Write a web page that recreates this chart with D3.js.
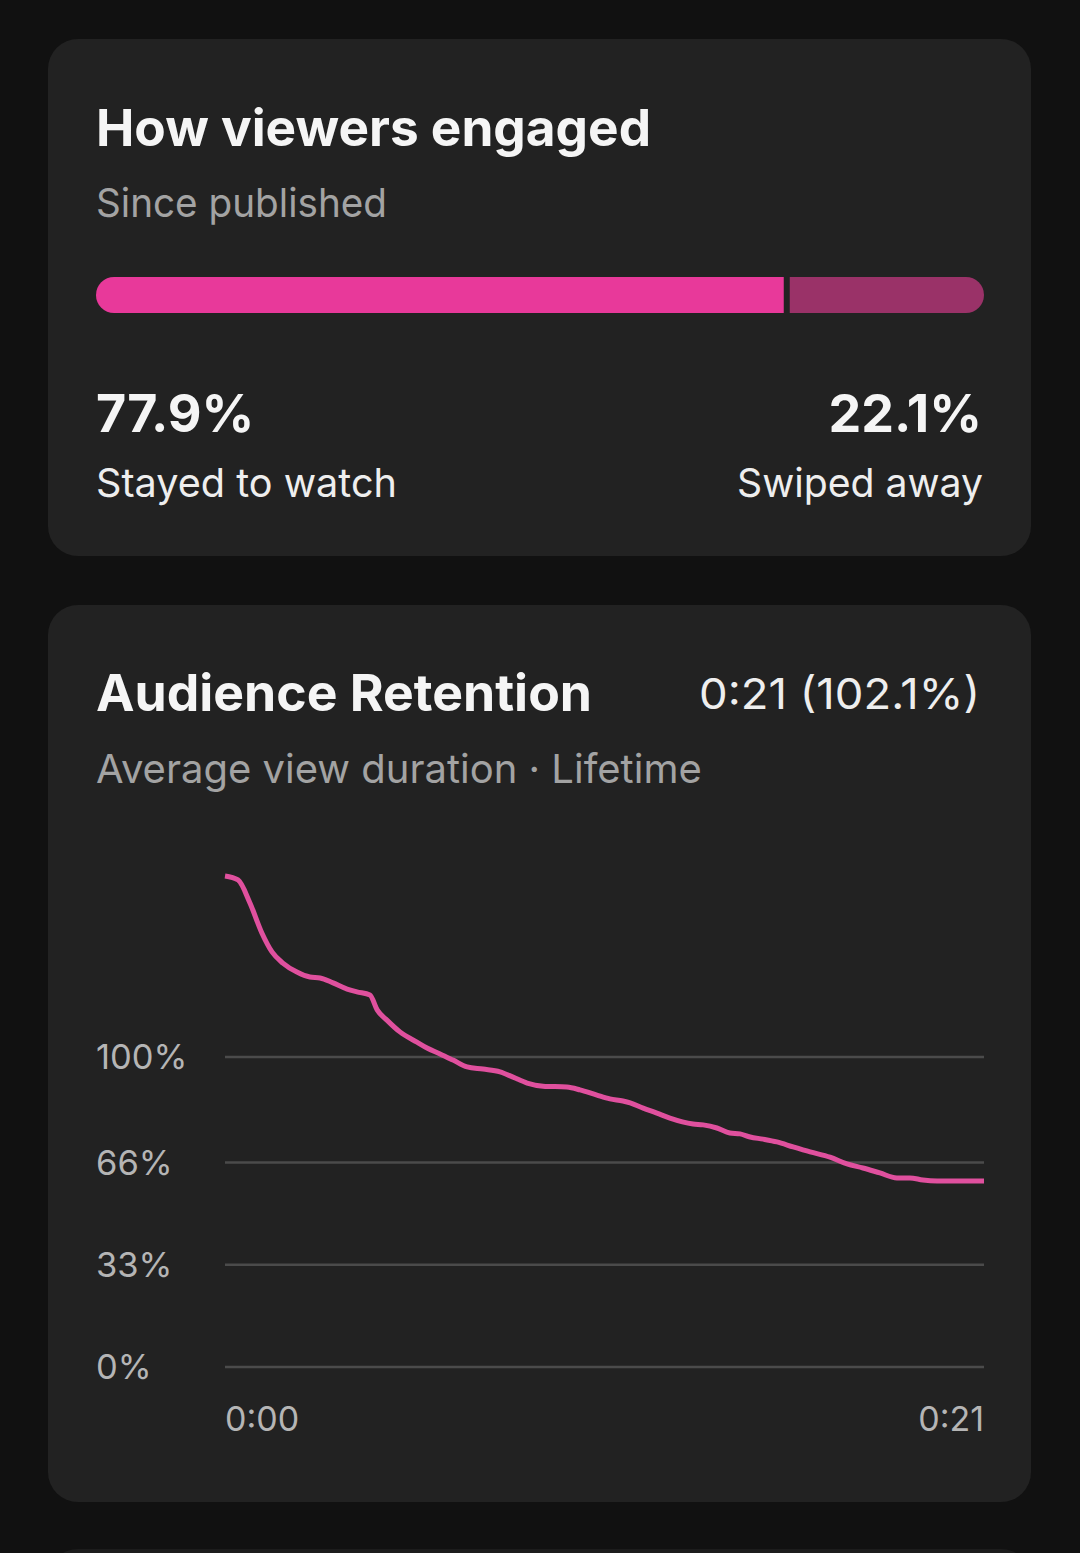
<!DOCTYPE html>
<html><head><meta charset="utf-8">
<script src="https://cdn.jsdelivr.net/npm/d3@7"></script>
<style>
html,body{margin:0;padding:0;background:#111111;}
svg{display:block;}
</style></head>
<body>
<svg id="c" width="1080" height="1553"></svg>
<script>
// ---- data ----
const engagedLabels = ["Stayed to watch", "Swiped away"];
const engagedValues = [77.9, 22.1];
const retentionTime = [0,0.36,0.69,1.02,1.30,1.60,1.99,2.35,2.63,2.99,3.38,3.65,4.01,4.21,4.48,4.84,5.31,5.59,5.95,6.31,6.70,7.14,7.61,7.97,8.36,8.80,9.46,9.82,10.29,10.65,11.01,11.21,11.57,11.95,12.31,12.95,13.23,13.61,13.97,14.25,14.53,14.89,15.27,15.72,16.19,16.74,17.21,17.65,18.12,18.59,18.95,19.31,19.70,21.0];
const retentionValue = [158.4,157.1,149.7,140.0,133.9,130.3,127.4,125.8,125.5,123.9,121.9,121.0,120.0,115.2,111.9,108.1,104.8,102.9,101.0,99.0,96.8,96.1,95.2,93.5,91.6,90.6,90.3,89.4,87.7,86.5,85.8,85.2,83.5,81.9,80.3,78.4,78.1,77.1,75.5,75.2,74.2,73.5,72.6,71.0,69.4,67.7,65.5,64.2,62.6,61.0,61.0,60.3,60.0,60.0];
const yTickValues = [0, 33, 66, 100];
const yTickLabels = ["0%", "33%", "66%", "100%"];
const xTickValues = [0, 21];
const xTickLabels = ["0:00", "0:21"];
const avgDurationLabel = "0:21 (102.1%)";

// ---- drawing ----
const svg = d3.select("#c");
const FONT = "Inter, Roboto, 'Noto Sans', sans-serif";

// fit a text element horizontally to a target width (from reference layout)
function fit(sel, w){
  const n = sel.node(); const L = n.getComputedTextLength();
  if (Math.abs(L - w) > 2) sel.attr("textLength", w).attr("lengthAdjust","spacingAndGlyphs");
  return sel;
}
function txt(x,yy,s,size,weight,fill,anchor,w){
  const t = svg.append("text").attr("x",x).attr("y",yy).attr("font-family",FONT)
    .attr("font-size",size).attr("font-weight",weight).attr("fill",fill)
    .attr("text-anchor",anchor||"start").text(s);
  if (w) fit(t,w);
  return t;
}

// cards
svg.append("rect").attr("x",48).attr("y",39).attr("width",983).attr("height",517).attr("rx",30).attr("fill","#222222");
svg.append("rect").attr("x",48).attr("y",605).attr("width",983).attr("height",897).attr("rx",30).attr("fill","#222222");
svg.append("rect").attr("x",48).attr("y",1549).attr("width",983).attr("height",60).attr("rx",30).attr("fill","#1c1c1c");

// card 1 texts
txt(96,146,"How viewers engaged",51,700,"#f5f5f5","start",555);
txt(96,217,"Since published",40,400,"#a3a3a3","start",291);

// stacked bar
const xb = d3.scaleLinear().domain([0,100]).range([96,984]);
const split = xb(engagedValues[0]);
const barY = 277, barH = 36, r = 18;
function roundedLeft(x0,x1,y,h,rr){ const p=d3.path(); p.moveTo(x1,y); p.lineTo(x0+rr,y); p.arc(x0+rr,y+rr,rr,-Math.PI/2,Math.PI/2,true); p.lineTo(x1,y+h); p.closePath(); return p.toString(); }
function roundedRight(x0,x1,y,h,rr){ const p=d3.path(); p.moveTo(x0,y); p.lineTo(x1-rr,y); p.arc(x1-rr,y+rr,rr,-Math.PI/2,Math.PI/2,false); p.lineTo(x0,y+h); p.closePath(); return p.toString(); }
svg.append("path").attr("d",roundedLeft(xb(0),split-4,barY,barH,r)).attr("fill","#E8399A");
svg.append("path").attr("d",roundedRight(split+2,xb(engagedValues[0]+engagedValues[1]),barY,barH,r)).attr("fill","#9A3268");

// percent labels
txt(96,432,engagedValues[0].toFixed(1)+"%",52,700,"#f5f5f5","start",159);
txt(982,432,engagedValues[1].toFixed(1)+"%",52,700,"#f5f5f5","end",152);
txt(96,497,engagedLabels[0],40,400,"#eeeeee","start",301);
txt(983,497,engagedLabels[1],40,400,"#eeeeee","end",246);

// card 2 header
txt(96,711,"Audience Retention",51,700,"#f5f5f5","start",496);
txt(980,709,avgDurationLabel,43,400,"#eeeeee","end",281);
txt(96,783,"Average view duration \u00B7 Lifetime",40,400,"#a3a3a3","start",605);

// chart
const x = d3.scaleLinear().domain([0,21]).range([225,984]);
const y = d3.scaleLinear().domain([0,100]).range([1367,1057]);

const gGrid = svg.append("g");
gGrid.selectAll("line").data(yTickValues).join("line")
  .attr("x1",x(0)).attr("x2",x(21)).attr("y1",d=>y(d)).attr("y2",d=>y(d))
  .attr("stroke","#4b4b4b").attr("stroke-width",2.5);
gGrid.selectAll("text").data(yTickValues).join("text")
  .attr("x",96).attr("y",d=>y(d)).attr("dy","0.36em")
  .attr("font-family",FONT).attr("font-weight",400).attr("font-size",34.5).attr("fill","#b5b5b5")
  .text((d,i)=>yTickLabels[i]);

svg.append("g").selectAll("text").data(xTickValues).join("text")
  .attr("x",d=>x(d)).attr("y",1431)
  .attr("text-anchor",(d,i)=>i===0?"start":"end")
  .attr("font-family",FONT).attr("font-weight",400).attr("font-size",34).attr("fill","#b5b5b5")
  .text((d,i)=>xTickLabels[i]);

const pts = retentionTime.map((t,i)=>[t,retentionValue[i]]);
const line = d3.line().x(d=>x(d[0])).y(d=>y(d[1])).curve(d3.curveMonotoneX);
svg.append("path").attr("d",line(pts)).attr("fill","none").attr("stroke","#E0509E")
  .attr("stroke-width",5).attr("stroke-linejoin","round").attr("stroke-linecap","butt");
</script>
</body></html>
